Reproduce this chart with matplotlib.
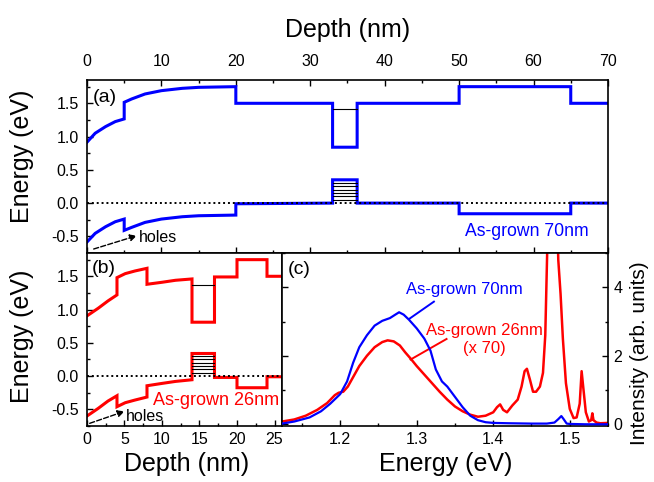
import matplotlib
matplotlib.use("Agg")
import matplotlib.pyplot as plt
from matplotlib.ticker import MultipleLocator

plt.rcParams['font.family'] = ['Liberation Sans', 'DejaVu Sans']
plt.rcParams['axes.linewidth'] = 1.2

# Panel (a): band profile, 70 nm sample (depth in nm, energy in eV)
depth_a = [0, 1.1, 2.5, 3.8, 5, 5, 6, 7.8, 10, 12.8, 15, 20, 20, 33, 33, 36.3, 36.3, 50, 50, 65, 65, 70]
ec_a = [0.915, 1.05, 1.15, 1.225, 1.265, 1.515, 1.565, 1.64, 1.69, 1.725, 1.74, 1.75, 1.5, 1.5,
        0.84, 0.84, 1.5, 1.5, 1.75, 1.75, 1.5, 1.5]
ev_a = [-0.585, -0.455, -0.355, -0.28, -0.24, -0.41, -0.365, -0.29, -0.24, -0.205, -0.19, -0.18, -0.01, 0.0,
        0.35, 0.35, 0.0, 0.0, -0.16, -0.16, 0.0, 0.0]
qw_a = [33, 36.3]
e_level_a = 1.415

# Panel (b): band profile, 26 nm sample
depth_b = [0, 1.5, 2.8, 4, 4, 5.1, 6.4, 8, 8, 10, 11.8, 14, 14, 17, 17, 20, 20, 24, 24, 26]
ec_b = [0.905, 1.02, 1.13, 1.22, 1.48, 1.54, 1.58, 1.62, 1.38, 1.41, 1.44, 1.46,
        0.81, 0.81, 1.49, 1.49, 1.75, 1.75, 1.5, 1.5]
ev_b = [-0.60, -0.485, -0.375, -0.295, -0.46, -0.40, -0.36, -0.315, -0.145, -0.11, -0.08, -0.055,
        0.34, 0.34, -0.02, -0.02, -0.175, -0.175, -0.01, -0.01]
qw_b = [14, 17]
e_level_b = 1.37

# hole levels drawn inside the wells
hole_levels = [0.05, 0.10, 0.15, 0.20, 0.25, 0.30]

# Panel (c): PL spectra
blue_e = [1.124, 1.14, 1.16, 1.175, 1.187, 1.2, 1.209, 1.217, 1.225, 1.235, 1.245, 1.255, 1.265,
          1.272, 1.277, 1.283, 1.29, 1.3, 1.31, 1.318, 1.325, 1.333, 1.34, 1.35, 1.36, 1.37, 1.38,
          1.39, 1.40, 1.42, 1.45, 1.47, 1.48, 1.485, 1.489, 1.492, 1.496, 1.50, 1.52, 1.55]
blue_i = [0.02, 0.08, 0.2, 0.38, 0.6, 0.88, 1.25, 1.8, 2.25, 2.6, 2.88, 3.02, 3.1,
          3.2, 3.27, 3.2, 3.05, 2.8, 2.5, 2.15, 1.6, 1.25, 1.1, 0.8, 0.5, 0.25, 0.12,
          0.06, 0.04, 0.03, 0.02, 0.02, 0.05, 0.15, 0.24, 0.15, 0.02, 0.01, 0.0, 0.0]
red_e = [1.124, 1.14, 1.155, 1.17, 1.183, 1.193, 1.198, 1.204, 1.21, 1.217, 1.225, 1.235, 1.245,
         1.255, 1.262, 1.27, 1.278, 1.285, 1.292, 1.30, 1.31, 1.32, 1.33, 1.34, 1.35, 1.36, 1.37,
         1.38, 1.39, 1.40, 1.405, 1.409, 1.413, 1.418, 1.425, 1.432, 1.437, 1.441, 1.444, 1.448,
         1.452, 1.456, 1.461, 1.465, 1.468, 1.471, 1.474, 1.478, 1.482, 1.485, 1.488, 1.491, 1.495,
         1.50, 1.505, 1.509, 1.513, 1.5155, 1.518, 1.521, 1.525, 1.528, 1.5295, 1.531, 1.535, 1.54, 1.55]
red_i = [0.08, 0.14, 0.25, 0.42, 0.62, 0.85, 0.92, 0.95, 1.1, 1.38, 1.7, 2.0, 2.25,
         2.4, 2.45, 2.42, 2.3, 2.1, 1.92, 1.7, 1.45, 1.2, 0.95, 0.72, 0.52, 0.38, 0.28,
         0.22, 0.25, 0.35, 0.5, 0.58, 0.42, 0.35, 0.55, 0.72, 1.1, 1.55, 1.62, 1.3,
         0.95, 0.95, 1.1, 1.5, 2.6, 5.5, 9.0, 10.0, 7.5, 4.8, 3.8, 2.5, 1.2,
         0.45, 0.18, 0.2, 0.6, 1.55, 1.0, 0.35, 0.08, 0.12, 0.32, 0.12, 0.05, 0.03, 0.04]

fig = plt.figure(figsize=(6.54, 4.82), dpi=100)
ax_a = fig.add_axes([0.1330, 0.4751, 0.7966, 0.3589])
ax_b = fig.add_axes([0.1330, 0.1162, 0.2982, 0.3589])
ax_c = fig.add_axes([0.4312, 0.1162, 0.4985, 0.3589])

band_lw = 2.2


def draw_bands(ax, depth, ec, ev, qw, e_level, color):
    ax.plot(depth, ec, color=color, lw=band_lw, solid_joinstyle='miter')
    ax.plot(depth, ev, color=color, lw=band_lw, solid_joinstyle='miter')
    ax.plot(qw, [e_level, e_level], color='black', lw=0.8)
    for h in hole_levels:
        ax.plot(qw, [h, h], color='black', lw=0.8)
    ax.axhline(0, color='black', ls=(0, (1, 1.5)), lw=1.4, zorder=5)


# ---- (a)
draw_bands(ax_a, depth_a, ec_a, ev_a, qw_a, e_level_a, 'blue')
ax_a.set_xlim(0, 70)
ax_a.set_ylim(-0.75, 1.85)
ax_a.xaxis.set_major_locator(MultipleLocator(10))
ax_a.xaxis.set_minor_locator(MultipleLocator(5))
ax_a.yaxis.set_major_locator(MultipleLocator(0.5))
ax_a.yaxis.set_minor_locator(MultipleLocator(0.25))
ax_a.yaxis.set_major_formatter(plt.FormatStrFormatter('%.1f'))
ax_a.tick_params(axis='x', which='both', direction='in', top=True, bottom=True,
                 labeltop=True, labelbottom=False, labelsize=11.5, pad=8)
ax_a.tick_params(axis='y', which='both', direction='in', left=True, right=False,
                 labelsize=11.5, pad=6)
ax_a.xaxis.set_label_position('top')
ax_a.set_xlabel('Depth (nm)', fontsize=18)
ax_a.xaxis.set_label_coords(0.5, 1.25)
ax_a.set_ylabel('Energy (eV)', fontsize=18)
ax_a.yaxis.set_label_coords(-0.102, 0.56)
ax_a.text(0.72, 1.59, '(a)', fontsize=14, va='center')
ax_a.annotate('', xy=(6.7, -0.49), xytext=(0.9, -0.69),
              arrowprops=dict(arrowstyle='-|>', ls='--', color='black', lw=1.0,
                              mutation_scale=10, shrinkA=0, shrinkB=0))
ax_a.text(7.0, -0.51, 'holes', fontsize=11.5, va='center')
ax_a.text(67.4, -0.43, 'As-grown 70nm', fontsize=12.7, color='blue', ha='right', va='center')

# ---- (b)
draw_bands(ax_b, depth_b, ec_b, ev_b, qw_b, e_level_b, 'red')
ax_b.set_xlim(0, 26)
ax_b.set_ylim(-0.75, 1.85)
ax_b.xaxis.set_major_locator(MultipleLocator(5))
ax_b.xaxis.set_minor_locator(MultipleLocator(2.5))
ax_b.yaxis.set_major_locator(MultipleLocator(0.5))
ax_b.yaxis.set_minor_locator(MultipleLocator(0.25))
ax_b.yaxis.set_major_formatter(plt.FormatStrFormatter('%.1f'))
ax_b.tick_params(axis='x', which='both', direction='in', top=False, bottom=True,
                 labelsize=11.5, pad=4)
ax_b.tick_params(axis='y', which='both', direction='in', left=True, right=False,
                 labelsize=11.5, pad=6)
ax_b.set_xlabel('Depth (nm)', fontsize=18)
ax_b.xaxis.set_label_coords(0.51, -0.15)
ax_b.set_ylabel('Energy (eV)', fontsize=18)
ax_b.yaxis.set_label_coords(-0.272, 0.52)
ax_b.text(0.6, 1.61, '(b)', fontsize=14, va='center')
ax_b.annotate('', xy=(5.0, -0.53), xytext=(0.36, -0.71),
              arrowprops=dict(arrowstyle='-|>', ls='--', color='black', lw=1.0,
                              mutation_scale=10, shrinkA=0, shrinkB=0))
ax_b.text(5.2, -0.60, 'holes', fontsize=11.5, va='center')
ax_b.text(25.6, -0.36, 'As-grown 26nm', fontsize=13, color='red', ha='right', va='center')

# ---- (c)
ax_c.plot(blue_e, blue_i, color='blue', lw=1.6, zorder=3)
ax_c.plot(red_e, red_i, color='red', lw=1.8, zorder=2)
ax_c.set_xlim(1.124, 1.55)
ax_c.set_ylim(-0.05, 5)
ax_c.xaxis.set_major_locator(MultipleLocator(0.1))
ax_c.xaxis.set_minor_locator(MultipleLocator(0.05))
ax_c.yaxis.set_major_locator(MultipleLocator(2))
ax_c.yaxis.set_minor_locator(MultipleLocator(1))
ax_c.xaxis.set_major_formatter(plt.FormatStrFormatter('%.1f'))
ax_c.tick_params(axis='x', which='both', direction='in', top=False, bottom=True,
                 labelsize=11.5, pad=4)
ax_c.tick_params(axis='y', which='both', direction='in', left=True, right=True,
                 labelleft=False, labelright=True, labelsize=11.5, pad=4)
ax_c.set_xlabel('Energy (eV)', fontsize=18)
ax_c.xaxis.set_label_coords(0.503, -0.15)
ax_c.yaxis.set_label_position('right')
ax_c.set_ylabel('Intensity (arb. units)', fontsize=15)
ax_c.yaxis.set_label_coords(1.067, 0.42)
ax_c.text(1.131, 4.53, '(c)', fontsize=14, va='center')
ax_c.text(1.3625, 3.92, 'As-grown 70nm', fontsize=12, color='blue', ha='center', va='center')
ax_c.plot([1.2904, 1.3225], [3.08, 3.58], color='blue', lw=1.4)
ax_c.text(1.389, 2.47, 'As-grown 26nm\n(x 70)', fontsize=12, color='red', ha='center',
          va='center', linespacing=1.2)
ax_c.plot([1.292, 1.339], [1.89, 2.49], color='red', lw=1.4)

for ax in (ax_a, ax_b, ax_c):
    ax.tick_params(which='major', length=4.5, width=1.0)
    ax.tick_params(which='minor', length=2.5, width=1.0)

fig.savefig('out.png', dpi=100)
